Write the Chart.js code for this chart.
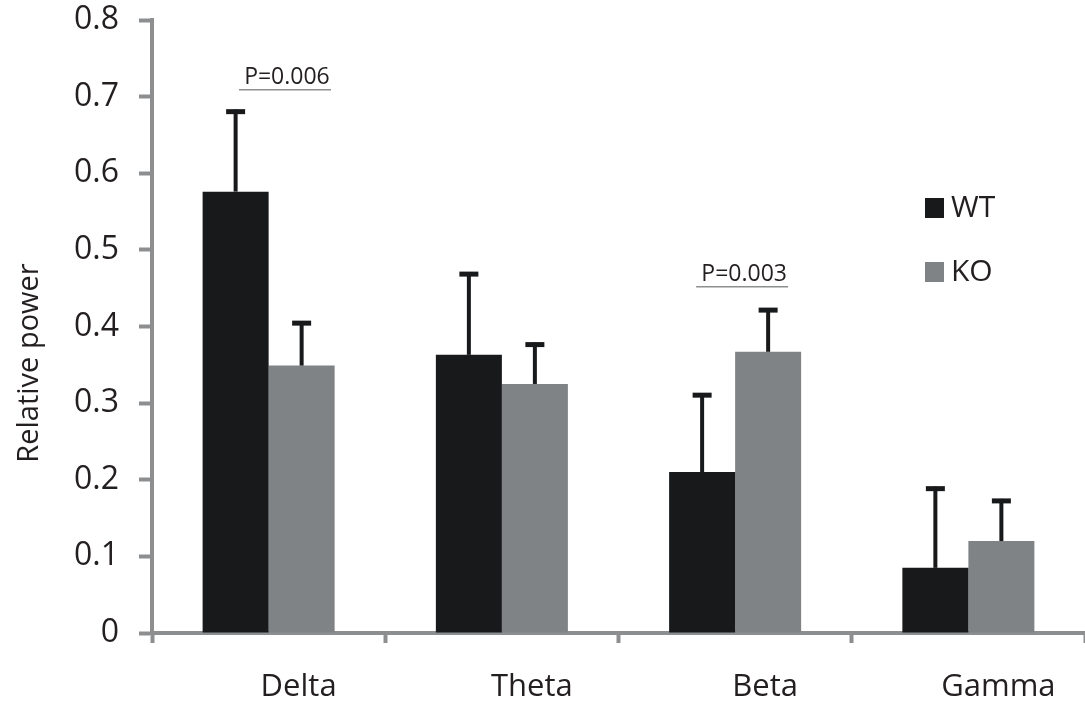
<!DOCTYPE html>
<html>
<head>
<meta charset="utf-8">
<script src="https://cdn.jsdelivr.net/npm/chart.js@4"></script>
<style>
  html, body { margin: 0; padding: 0; background: #fff; }
  #wrap { width: 1085px; height: 709px; }
</style>
</head>
<body>
<div id="wrap"><canvas id="myChart"></canvas></div>
<script>
const bands = ['Delta', 'Theta', 'Beta', 'Gamma'];
const wtMean = [0.576, 0.363, 0.210, 0.085];
const wtErr = [0.107, 0.108, 0.103, 0.106];
const koMean = [0.349, 0.325, 0.367, 0.120];
const koErr = [0.058, 0.054, 0.057, 0.055];
const yTicks = [0, 0.1, 0.2, 0.3, 0.4, 0.5, 0.6, 0.7, 0.8];
// p-value notes: text, category position (fractional index), value of the underline
const pNotes = [
    { text: 'P=0.006', at: 0.07, y: 0.709 },
    { text: 'P=0.003', at: 2.03, y: 0.452 }
];

const axisGray = '#8c8e90';
const textColor = '#231f20';
const fontFam = "'Open Sans', sans-serif";

const errorBars = {
    id: 'errorBars',
    afterDatasetsDraw(chart) {
        const ctx = chart.ctx;
        const yScale = chart.scales.y;
        const errs = [wtErr, koErr];
        ctx.save();
        ctx.strokeStyle = '#18191b';
        chart.data.datasets.forEach((ds, d) => {
            chart.getDatasetMeta(d).data.forEach((bar, i) => {
                const top = yScale.getPixelForValue(ds.data[i] + errs[d][i]);
                ctx.lineWidth = 4;
                ctx.beginPath();
                ctx.moveTo(bar.x, bar.y);
                ctx.lineTo(bar.x, top);
                ctx.stroke();
                ctx.lineWidth = 5;
                ctx.beginPath();
                ctx.moveTo(bar.x - 9.5, top + 2);
                ctx.lineTo(bar.x + 9.5, top + 2);
                ctx.stroke();
            });
        });
        ctx.restore();
    }
};

const extras = {
    id: 'extras',
    afterDraw(chart) {
        const ctx = chart.ctx;
        const xs = chart.scales.x, ys = chart.scales.y;
        ctx.save();
        // y axis title
        ctx.fillStyle = textColor;
        ctx.font = '29px ' + fontFam;
        ctx.textAlign = 'center';
        ctx.textBaseline = 'middle';
        ctx.translate(30, 363);
        ctx.rotate(-Math.PI / 2);
        ctx.fillText('Relative power', 0, 0);
        ctx.setTransform(1, 0, 0, 1, 0, 0);

        // p-value notes
        ctx.font = '23px ' + fontFam;
        pNotes.forEach(n => {
            const cx = xs.getPixelForValue(n.at);
            const y = ys.getPixelForValue(n.y);
            ctx.fillStyle = textColor;
            ctx.textBaseline = 'alphabetic';
            ctx.fillText(n.text, cx + 2, y - 6);
            ctx.strokeStyle = axisGray;
            ctx.lineWidth = 1.5;
            ctx.beginPath();
            ctx.moveTo(cx - 46, y);
            ctx.lineTo(cx + 46, y);
            ctx.stroke();
        });

        // legend
        ctx.font = '30px ' + fontFam;
        ctx.textAlign = 'left';
        ctx.textBaseline = 'middle';
        chart.data.datasets.forEach((ds, d) => {
            const y = 208 + d * 64;
            ctx.fillStyle = ds.backgroundColor;
            ctx.fillRect(925, y - 10, 19, 20);
            ctx.fillStyle = textColor;
            ctx.fillText(ds.label, 951, y);
        });
        ctx.restore();
    }
};

new Chart(document.querySelector('#myChart'), {
    type: 'bar',
    data: {
        labels: bands,
        datasets: [
            { label: 'WT', data: wtMean, backgroundColor: '#18191b' },
            { label: 'KO', data: koMean, backgroundColor: '#7f8385' }
        ]
    },
    options: {
        responsive: true,
        maintainAspectRatio: false,
        animation: false,
        layout: { padding: { top: 20, right: 0, left: 0, bottom: 0 } },
        datasets: {
            bar: { categoryPercentage: 0.566, barPercentage: 1.0, borderWidth: 0 }
        },
        plugins: {
            legend: { display: false },
            tooltip: { enabled: false }
        },
        scales: {
            x: {
                grid: {
                    display: true,
                    drawOnChartArea: false,
                    drawTicks: true,
                    tickLength: 10,
                    tickWidth: 4,
                    tickColor: axisGray,
                    offset: true
                },
                border: { display: true, color: axisGray, width: 4 },
                ticks: {
                    color: textColor,
                    font: { family: fontFam, size: 31 },
                    padding: 26,
                    labelOffset: 30,
                    maxRotation: 0
                },
                afterFit: s => { s.height = 76; s.paddingLeft = 0; s.paddingRight = 0; }
            },
            y: {
                min: 0,
                max: 0.8,
                afterBuildTicks: s => { s.ticks = yTicks.map(v => ({ value: v })); },
                grid: {
                    display: true,
                    drawOnChartArea: false,
                    drawTicks: true,
                    tickLength: 13,
                    tickWidth: 4,
                    tickColor: axisGray
                },
                border: { display: true, color: axisGray, width: 4 },
                ticks: {
                    color: textColor,
                    font: { family: fontFam, size: 32 },
                    padding: 20,
                    callback: v => String(Math.round(v * 10) / 10)
                },
                afterFit: s => { s.width = 152; s.paddingTop = 0; s.paddingBottom = 0; }
            }
        }
    },
    plugins: [errorBars, extras]
});
</script>
</body>
</html>
